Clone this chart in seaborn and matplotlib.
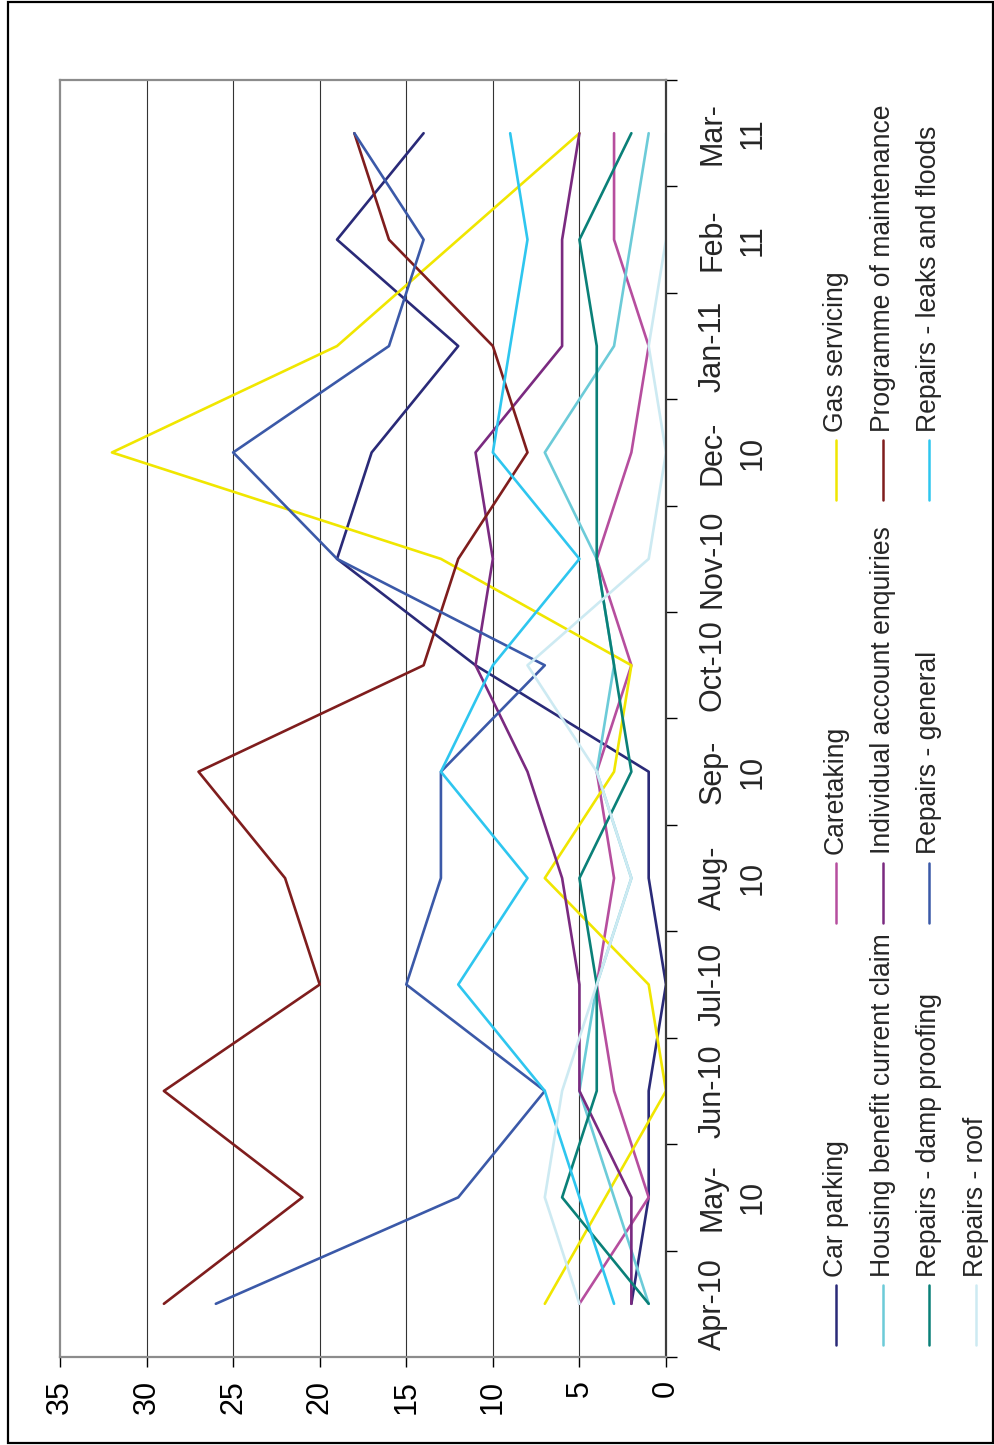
import numpy as np
import pandas as pd
import matplotlib
matplotlib.use("Agg")
import matplotlib.pyplot as plt
from matplotlib.lines import Line2D
from matplotlib.patches import Rectangle
import seaborn as sns

# Monthly enquiry counts per category, April 2010 - March 2011
months = ["Apr-10", "May-\n10", "Jun-10", "Jul-10", "Aug-\n10", "Sep-\n10",
          "Oct-10", "Nov-10", "Dec-\n10", "Jan-11", "Feb-\n11", "Mar-\n11"]

car_parking = [2, 1, 1, 0, 1, 1, 11, 19, 17, 12, 19, 14]
caretaking = [5, 1, 3, 4, 3, 4, 2, 4, 2, 1, 3, 3]
gas_servicing = [7, 3.5, 0, 1, 7, 3, 2, 13, 32, 19, 12, 5]
housing_benefit = [1, 3, 5, 4, 2, 4, 3, 4, 7, 3, 2, 1]
individual_account = [2, 2, 5, 5, 6, 8, 11, 10, 11, 6, 6, 5]
programme_maintenance = [29, 21, 29, 20, 22, 27, 14, 12, 8, 10, 16, 18]
repairs_damp = [1, 6, 4, 4, 5, 2, 3, 4, 4, 4, 5, 2]
repairs_general = [26, 12, 7, 15, 13, 13, 7, 19, 25, 16, 14, 18]
repairs_leaks = [3, 5, 7, 12, 8, 13, 10, 5, 10, 9, 8, 9]
repairs_roof = [5, 7, 6, 4, 2, 4, 8, 1, 0, 1, 0, 0]

series_names = ["Car parking", "Caretaking", "Gas servicing",
                "Housing benefit current claim", "Individual account enquiries",
                "Programme of maintenance", "Repairs - damp proofing",
                "Repairs - general", "Repairs - leaks and floods", "Repairs - roof"]
series_values = [car_parking, caretaking, gas_servicing, housing_benefit,
                 individual_account, programme_maintenance, repairs_damp,
                 repairs_general, repairs_leaks, repairs_roof]
series_colors = ["#2a2a78", "#b64e9e", "#f0e600", "#6ccbd8", "#7a2a80",
                 "#7f1d1d", "#0a8078", "#3b59a8", "#2ec6ef", "#cdeaf2"]

value_ticks = [0, 5, 10, 15, 20, 25, 30, 35]

df = pd.DataFrame(
    [{"series": name, "month": i, "value": v}
     for name, vals in zip(series_names, series_values)
     for i, v in enumerate(vals)]
)
palette = dict(zip(series_names, series_colors))

sns.set_style("ticks")
plt.rcParams["font.family"] = ["Liberation Sans", "DejaVu Sans"]

W, H = 995, 1445
fig = plt.figure(figsize=(W / 100, H / 100), dpi=100)


def fx(px):
    return px / W


def fy(py):
    return 1 - py / H


# The chart is laid out sideways: months run bottom-to-top, values right-to-left
ax = fig.add_axes([fx(60), fy(1357), fx(666) - fx(60), fy(80) - fy(1357)])

for v in value_ticks[1:-1]:
    ax.axvline(v, color="#333333", lw=0.8, zorder=0)

sns.lineplot(data=df, x="value", y="month", hue="series", hue_order=series_names,
             palette=palette, orient="y", estimator=None, linewidth=1.9,
             legend=False, ax=ax)

ax.set_xlim(35, 0)
ax.set_ylim(-0.5, 11.5)
ax.set_xlabel("")
ax.set_ylabel("")

ax.set_xticks(value_ticks)
ax.set_xticklabels([str(v) for v in value_ticks], rotation=90, fontsize=22,
                   ha="center", va="top")
ax.tick_params(axis="x", direction="out", length=7.5, width=1, pad=9,
               colors="black", bottom=True, top=False)

ax.yaxis.tick_right()
ax.set_yticks(range(len(months)))
ax.set_yticklabels(months, rotation=90, fontsize=22, ha="left", va="center",
                   multialignment="center", linespacing=1.4)
ax.set_yticks(np.arange(-0.5, len(months), 1), minor=True)
ax.tick_params(axis="y", which="major", length=0, pad=23, right=True, left=False)
ax.tick_params(axis="y", which="minor", length=8, width=1, direction="out",
               right=True, left=False, colors="black")

for side in ["left", "top", "bottom"]:
    ax.spines[side].set_color("#8c8c8c")
    ax.spines[side].set_linewidth(1.6)
ax.spines["right"].set_color("#3c3c3c")
ax.spines["right"].set_linewidth(1.6)

# Legend, laid out sideways in rows of three
for i, (name, color) in enumerate(zip(series_names, series_colors)):
    r, c = divmod(i, 3)
    x = 836 + r * 46.7
    y0 = 1345 - c * 422.5
    fig.add_artist(Line2D([fx(x), fx(x)], [fy(y0), fy(y0 - 60)], color=color,
                          lw=1.8, transform=fig.transFigure))
    fig.text(fx(x), fy(y0 - 68), name, rotation=90, ha="center", va="bottom",
             fontsize=19.1)

fig.add_artist(Rectangle((fx(8), fy(1443)), fx(993) - fx(8), fy(2) - fy(1443),
                         fill=False, ec="black", lw=1.6,
                         transform=fig.transFigure))

fig.savefig("out.png", dpi=100)
